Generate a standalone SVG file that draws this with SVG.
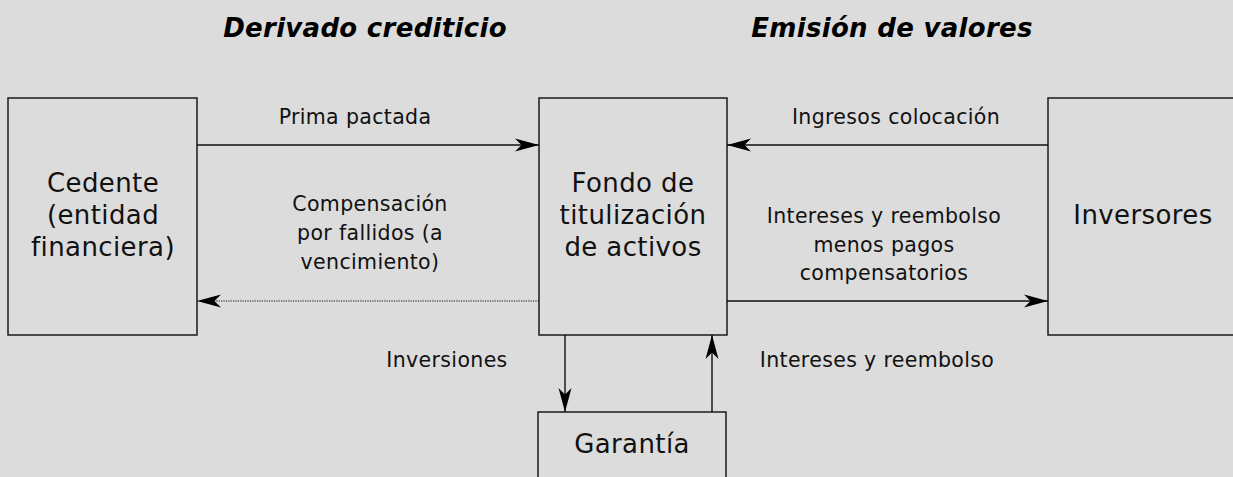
<svg xmlns="http://www.w3.org/2000/svg" width="1233" height="477" viewBox="0 0 1233 477">
  <style>
    .box { fill: none; stroke: #1a1a1a; stroke-width: 1.5; }
    .node-text { font-family: "DejaVu Sans", Verdana, sans-serif; font-size: 26px; letter-spacing: 0.4px; fill: #111; text-anchor: middle; }
    .lbl { font-family: "DejaVu Sans", Verdana, sans-serif; font-size: 20.5px; letter-spacing: 0.35px; fill: #111; text-anchor: middle; }
    .title { font-family: "DejaVu Sans", Verdana, sans-serif; font-size: 26px; font-weight: bold; font-style: italic; letter-spacing: 0.3px; fill: #000; text-anchor: middle; }
    .conn { fill: none; stroke: #111; stroke-width: 1.4; }
    .dotted { stroke-dasharray: 1.2 1.2; stroke-width: 1.2; }
  </style>
  <defs>
    <marker id="arrow" viewBox="0 0 24 14" refX="24" refY="7" markerWidth="24" markerHeight="14" markerUnits="userSpaceOnUse" orient="auto">
      <path d="M24,7 L0,0.5 L6.5,7 L0,13.5 Z" fill="#000"/>
    </marker>
  </defs>
  <rect x="0" y="0" width="1233" height="477" fill="#dcdcdc"/>

  <text class="title" x="365" y="37">Derivado crediticio</text>
  <text class="title" x="892" y="37">Emisión de valores</text>

  <g id="cedente">
    <rect class="box" x="8" y="98" width="189" height="237"/>
    <text class="node-text" x="103" y="192">Cedente</text>
    <text class="node-text" x="103" y="224">(entidad</text>
    <text class="node-text" x="103" y="256">financiera)</text>
  </g>

  <g id="fondo">
    <rect class="box" x="539" y="98" width="188" height="237"/>
    <text class="node-text" x="633" y="192">Fondo de</text>
    <text class="node-text" x="633" y="224">titulización</text>
    <text class="node-text" x="633" y="256">de activos</text>
  </g>

  <g id="inversores">
    <rect class="box" x="1048" y="98" width="190" height="237"/>
    <text class="node-text" x="1143" y="224">Inversores</text>
  </g>

  <g id="garantia">
    <rect class="box" x="538" y="412" width="188" height="70"/>
    <text class="node-text" x="632" y="453">Garantía</text>
  </g>

  <g id="connectors">
    <path class="conn" d="M197,145 H539" marker-end="url(#arrow)"/>
    <path class="conn dotted" d="M539,301 H197" marker-end="url(#arrow)"/>
    <path class="conn" d="M1048,145 H727" marker-end="url(#arrow)"/>
    <path class="conn" d="M727,301 H1048" marker-end="url(#arrow)"/>
    <path class="conn" d="M565,335 V412" marker-end="url(#arrow)"/>
    <path class="conn" d="M712,412 V335" marker-end="url(#arrow)"/>
  </g>

  <g id="labels">
    <text class="lbl" x="355" y="124">Prima pactada</text>
    <text class="lbl" x="370" y="211">Compensación</text>
    <text class="lbl" x="370" y="240">por fallidos (a</text>
    <text class="lbl" x="370" y="269">vencimiento)</text>
    <text class="lbl" x="896" y="124">Ingresos colocación</text>
    <text class="lbl" x="884" y="223">Intereses y reembolso</text>
    <text class="lbl" x="884" y="252">menos pagos</text>
    <text class="lbl" x="884" y="280">compensatorios</text>
    <text class="lbl" x="447" y="367">Inversiones</text>
    <text class="lbl" x="877" y="367">Intereses y reembolso</text>
  </g>
</svg>
